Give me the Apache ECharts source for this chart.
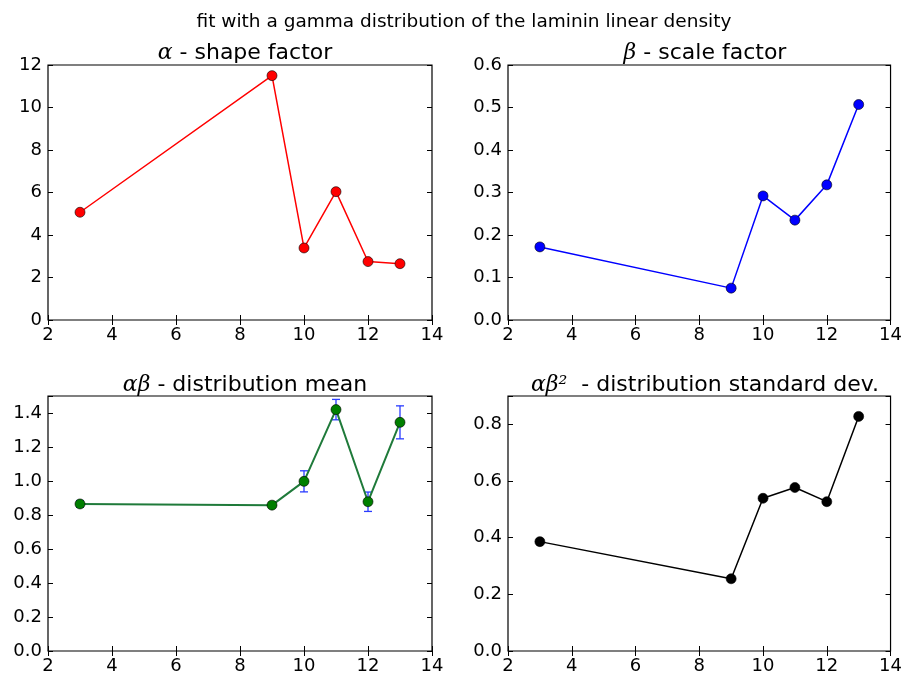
<!DOCTYPE html>
<html>
<head>
<meta charset="utf-8">
<script src="https://cdn.jsdelivr.net/npm/echarts@6/dist/echarts.min.js"></script>
<style>
  html, body { margin: 0; padding: 0; background: #fff; }
  #chart { width: 905px; height: 675px; }
</style>
</head>
<body>
<div id="chart"></div>
<script>
// Gamma-fit parameters per sample
const xValues = [3, 9, 10, 11, 12, 13];
const shapeAlpha = [5.07, 11.5, 3.39, 6.04, 2.75, 2.65];
const scaleBeta = [0.172, 0.075, 0.292, 0.235, 0.318, 0.507];
const meanValues = [0.865, 0.858, 0.998, 1.42, 0.878, 1.345];
const meanErrors = [0.02, 0.015, 0.062, 0.06, 0.057, 0.097];
const stdValues = [0.386, 0.255, 0.539, 0.577, 0.527, 0.828];

const xTicks = { min: 2, max: 14, interval: 2 };
const yAxesSpec = [
  { min: 0, max: 12, interval: 2, digits: 0 },
  { min: 0, max: 0.6, interval: 0.1, digits: 1 },
  { min: 0, max: 1.5, interval: 0.2, digits: 1 },
  { min: 0, max: 0.9, interval: 0.2, digits: 1 }
];

const FONT = 'DejaVu Sans';
const grids = [
  { left: 48, top: 65, width: 384, height: 255 },
  { left: 508, top: 65, width: 384, height: 255 },
  { left: 48, top: 396, width: 384, height: 255 },
  { left: 508, top: 396, width: 384, height: 255 }
];

const pairs = (ys) => xValues.map((x, i) => [x, ys[i]]);

const xAxes = [];
const yAxes = [];
grids.forEach((g, gi) => {
  // bottom axis with labels, top axis with ticks only
  ['bottom', 'top'].forEach((pos) => {
    xAxes.push({
      type: 'value', gridIndex: gi, position: pos,
      min: xTicks.min, max: xTicks.max, interval: xTicks.interval,
      splitLine: { show: false },
      axisLine: { show: false },
      axisTick: { show: true, inside: true, length: 5, lineStyle: { color: '#000', width: 1 } },
      axisLabel: {
        show: pos === 'bottom', color: '#000', fontFamily: FONT, fontSize: 18, margin: 6,
        showMinLabel: true, showMaxLabel: true
      }
    });
  });
  const s = yAxesSpec[gi];
  // left axis with labels, right axis with ticks only
  ['left', 'right'].forEach((pos) => {
    yAxes.push({
      type: 'value', gridIndex: gi, position: pos,
      min: s.min, max: s.max, interval: s.interval,
      splitLine: { show: false },
      axisLine: { show: false },
      axisTick: { show: true, inside: true, length: 5, lineStyle: { color: '#000', width: 1 } },
      axisLabel: {
        show: pos === 'left', color: '#000', fontFamily: FONT, fontSize: 18, margin: 6,
        formatter: (v) => {
          const r = Math.round(v / s.interval) * s.interval;
          if (Math.abs(r - v) > 1e-9) return '';
          return v.toFixed(s.digits);
        }
      }
    });
  });
});

function lineSeries(gi, data, color, lineColor, lineWidth) {
  return {
    type: 'line', xAxisIndex: gi * 2, yAxisIndex: gi * 2,
    data: data, symbol: 'circle', symbolSize: 10,
    lineStyle: { color: lineColor || color, width: lineWidth || 1.5 },
    itemStyle: { color: color, borderColor: '#000', borderWidth: 0.6 },
    z: 5, animation: false
  };
}

// vertical error bars with caps around each mean value
const errorSeries = {
  type: 'custom', xAxisIndex: 4, yAxisIndex: 4,
  data: xValues.map((x, i) => [x, meanValues[i] - meanErrors[i], meanValues[i] + meanErrors[i]]),
  renderItem: (params, api) => {
    const lo = api.coord([api.value(0), api.value(1)]);
    const hi = api.coord([api.value(0), api.value(2)]);
    const half = 4;
    const style = { stroke: '#2a3cff', lineWidth: 1.3 };
    return {
      type: 'group',
      children: [
        { type: 'line', shape: { x1: lo[0], y1: lo[1], x2: hi[0], y2: hi[1] }, style },
        { type: 'line', shape: { x1: lo[0] - half, y1: lo[1], x2: lo[0] + half, y2: lo[1] }, style },
        { type: 'line', shape: { x1: hi[0] - half, y1: hi[1], x2: hi[0] + half, y2: hi[1] }, style }
      ]
    };
  },
  z: 3, animation: false
};

const SUB_SIZE = 22;
const titleFont = { fontFamily: FONT, fontSize: SUB_SIZE, color: '#000', fontWeight: 'normal' };
const mathRich = { m: { fontFamily: 'DejaVu Serif', fontStyle: 'italic', fontSize: SUB_SIZE, color: '#000' } };
function subTitle(text, cx, cy) {
  return {
    text: text, left: cx, top: cy, textAlign: 'center', textVerticalAlign: 'middle',
    textStyle: Object.assign({}, titleFont, { rich: mathRich })
  };
}

const option = {
  backgroundColor: '#fff',
  animation: false,
  title: [
    { text: 'fit with a gamma distribution of the laminin linear density', left: 459, top: 17,
      textAlign: 'center', textVerticalAlign: 'middle',
      textStyle: { fontFamily: FONT, fontSize: 18.5, color: '#000', fontWeight: 'normal' } },
    subTitle('{m|α} - shape factor', 240, 48),
    subTitle('{m|β} - scale factor', 700, 48),
    subTitle('{m|αβ} - distribution mean', 240, 380),
    subTitle('{m|αβ²}  - distribution standard dev.', 700, 380)
  ],
  grid: grids.map((g) => Object.assign({ show: true, borderColor: '#000', borderWidth: 1.2, backgroundColor: '#fff' }, g)),
  xAxis: xAxes,
  yAxis: yAxes,
  series: [
    lineSeries(0, pairs(shapeAlpha), '#ff0000'),
    lineSeries(1, pairs(scaleBeta), '#0000ff'),
    errorSeries,
    lineSeries(2, pairs(meanValues), '#007f00', '#1f7a3a', 2),
    lineSeries(3, pairs(stdValues), '#000000')
  ]
};

const chart = echarts.init(document.getElementById('chart'), null, { renderer: 'canvas' });
chart.setOption(option);
</script>
</body>
</html>
